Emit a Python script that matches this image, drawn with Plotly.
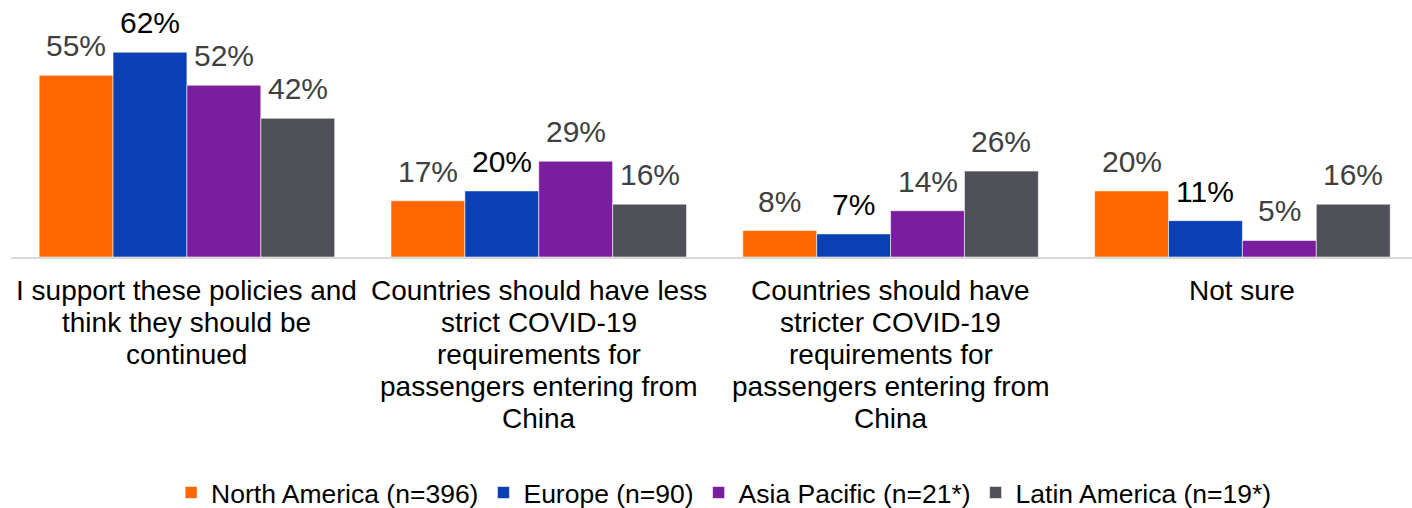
import plotly.graph_objects as go

# Survey answers (x axis categories); <br> marks the line breaks of each label
categories = [
    "I support these policies and<br>think they should be<br>continued",
    "Countries should have less<br>strict COVID-19<br>requirements for<br>passengers entering from<br>China",
    "Countries should have<br>stricter COVID-19<br>requirements for<br>passengers entering from<br>China",
    "Not sure",
]

# Share of respondents (%) per region
series_names = [
    "North America (n=396)",
    "Europe (n=90)",
    "Asia Pacific (n=21*)",
    "Latin America (n=19*)",
]
north_america = [55, 17, 8, 20]
europe = [62, 20, 7, 11]
asia_pacific = [52, 29, 14, 5]
latin_america = [42, 16, 26, 16]

series_values = [north_america, europe, asia_pacific, latin_america]
bar_colors = ["#FF6600", "#0B40B4", "#7A1E9E", "#505058"]
label_colors = ["#404040", "#000000", "#404040", "#404040"]

FONT = "Arial, Liberation Sans, sans-serif"
BARGAP = 0.16
n_series = len(series_values)
bar_w = (1 - BARGAP) / n_series

fig = go.Figure()
for name, vals, col in zip(series_names, series_values, bar_colors):
    fig.add_trace(go.Bar(
        x=categories, y=vals, name=name,
        marker=dict(color=col, line=dict(color="rgba(255,255,255,0.8)", width=0.7)),
        hoverinfo="skip",
    ))

annotations = []
# value labels above each bar
for i, (vals, lc) in enumerate(zip(series_values, label_colors)):
    for j, v in enumerate(vals):
        annotations.append(dict(
            x=j + (i - (n_series - 1) / 2) * bar_w, y=v,
            xref="x", yref="y", text=f"{v}%", showarrow=False,
            yanchor="bottom", yshift=11,
            font=dict(family=FONT, size=30, color=lc),
        ))

# category labels, one annotation per line for tight line spacing
for j, cat in enumerate(categories):
    for k, line in enumerate(cat.split("<br>")):
        annotations.append(dict(
            x=j, y=0, xref="x", yref="y", text=line, showarrow=False,
            yanchor="middle", yshift=-(33 + 32 * k),
            font=dict(family=FONT, size=28, color="#000000"),
        ))

fig.update_layout(
    width=1412, height=508,
    margin=dict(l=11, r=0, t=0, b=251),
    barmode="group", bargap=BARGAP, bargroupgap=0,
    plot_bgcolor="white", paper_bgcolor="white",
    font=dict(family=FONT, color="#000000"),
    xaxis=dict(
        range=[-0.5, 3.482], showticklabels=False, ticks="",
        showline=True, linecolor="#D9D9D9", linewidth=2,
        showgrid=False, zeroline=False, fixedrange=True,
    ),
    yaxis=dict(
        range=[0, 77.8], visible=False, showgrid=False, zeroline=False,
        fixedrange=True,
    ),
    legend=dict(
        orientation="h", x=0.509, xanchor="center",
        yref="container", y=0.03, yanchor="middle",
        font=dict(family=FONT, size=26.5, color="#000000"),
        traceorder="normal",
    ),
    annotations=annotations,
)

fig.write_html("out.html")
